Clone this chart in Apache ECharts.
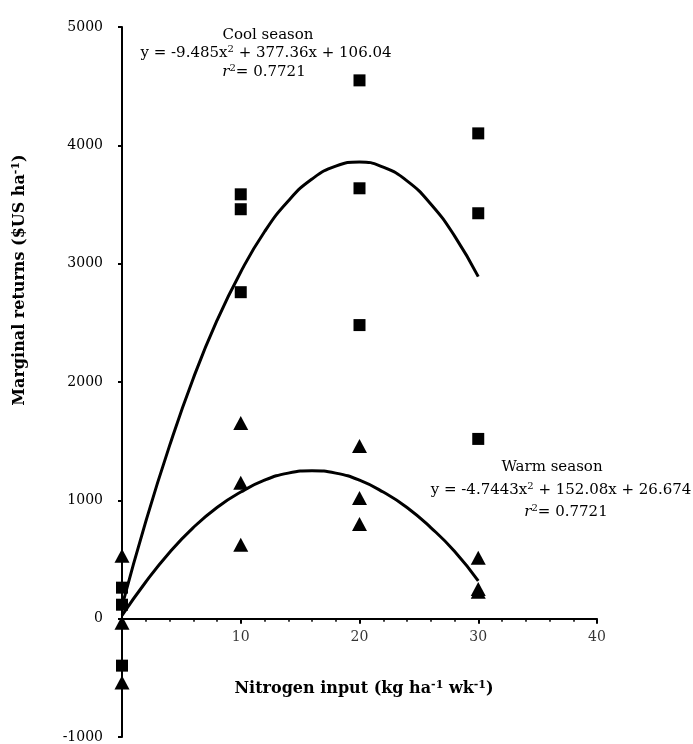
<!DOCTYPE html>
<html><head><meta charset="utf-8">
<script src="https://cdn.jsdelivr.net/npm/echarts@6/dist/echarts.min.js"></script>
<style>html,body{margin:0;padding:0;background:#fff}#c{width:693px;height:744px}</style>
</head><body><div id="c"></div>
<script>
// Observed data
var coolX = [0,0,0,10,10,10,20,20,20,30,30,30];
var coolY = [262,118,-397,3586,3460,2759,4549,3637,2481,4101,3426,1519];
var warmX = [0,0,0,10,10,10,20,20,20,30,30,30];
var warmY = [532,-34,-540,1654,1148,624,1460,1020,800,515,250,228];
// Fitted curves
var fitX = [0,2,4,6,8,10,12,14,16,18,20,22,24,26,28,30];
var coolFit = [106,820,1460,2030,2520,2930,3270,3530,3715,3825,3860,3815,3700,3505,3235,2890];
var warmFit = [27,310,560,770,940,1070,1170,1230,1250,1230,1170,1070,940,770,570,320];
var xTicks = [10,20,30,40];
var yTicks = [-1000,0,1000,2000,3000,4000,5000];

function pairs(xs, ys){ return xs.map(function(x,i){return [x, ys[i]];}); }

var FONT = '"DejaVu Serif", "Liberation Serif", serif';
var chart = echarts.init(document.getElementById('c'));
var txt = {fontFamily: FONT, fontSize: 15, color: '#000'};
var sup = {fontFamily: FONT, fontSize: 10, color: '#000', verticalAlign: 'top', lineHeight: 18};
var bold = {fontFamily: FONT, fontSize: 16, fontWeight: 'bold', color: '#000'};
var supB = {fontFamily: FONT, fontSize: 11, fontWeight: 'bold', color: '#000', verticalAlign: 'top', lineHeight: 19};
var ital = {fontFamily: FONT, fontSize: 15, fontStyle: 'italic', color: '#000'};

function note(x, y, text, rich){
  return {type: 'text', x: x, y: y, style: {text: text, align: 'center', verticalAlign: 'middle', rich: rich}};
}

chart.setOption({
  animation: false,
  backgroundColor: '#fff',
  grid: {left: 122, right: 96, top: 27, bottom: 7},
  xAxis: {
    type: 'value', min: 0, max: 40, interval: 10,
    axisLine: {onZero: true, lineStyle: {color: '#000', width: 2}},
    axisTick: {show: true, length: 5, lineStyle: {color: '#000', width: 2}},
    minorTick: {show: true, splitNumber: 5, length: 3, lineStyle: {color: '#000', width: 1.5}},
    splitLine: {show: false},
    axisLabel: {show: false}
  },
  yAxis: {
    type: 'value', min: -1000, max: 5000, interval: 1000,
    axisLine: {onZero: false, lineStyle: {color: '#000', width: 2}},
    axisTick: {show: true, length: 4, lineStyle: {color: '#000', width: 2}},
    splitLine: {show: false},
    axisLabel: {
      margin: 19, fontFamily: FONT, fontSize: 14, color: '#000',
      formatter: function(v){ return yTicks.indexOf(v) >= 0 ? String(v) : ''; }
    }
  },
  graphic: [
    {type: 'text', x: 364, y: 689, style: {
      text: '{a|Nitrogen input (kg ha}{s|-1}{a| wk}{s|-1}{a|)}', align: 'center', verticalAlign: 'middle',
      rich: {a: bold, s: supB}}},
    {type: 'text', x: 20, y: 280, rotation: Math.PI/2, style: {
      text: '{a|Marginal returns ($US ha}{s|-1}{a|)}', align: 'center', verticalAlign: 'middle',
      rich: {a: bold, s: supB}}},
    note(268, 35, '{a|Cool season}', {a: txt}),
    note(266, 53, '{a|y = -9.485x}{s|2}{a| + 377.36x + 106.04}', {a: txt, s: sup}),
    note(264, 72, '{i|r}{s|2}{a|= 0.7721}', {a: txt, s: sup, i: ital}),
    note(552, 467, '{a|Warm season}', {a: txt}),
    note(561, 490, '{a|y = -4.7443x}{s|2}{a| + 152.08x + 26.674}', {a: txt, s: sup}),
    note(566, 512, '{i|r}{s|2}{a|= 0.7721}', {a: txt, s: sup, i: ital})
  ],
  series: [
    {type: 'line', data: pairs(fitX, coolFit), smooth: true, symbol: 'none',
     lineStyle: {color: '#000', width: 3}, z: 2},
    {type: 'line', data: pairs(fitX, warmFit), smooth: true, symbol: 'none',
     lineStyle: {color: '#000', width: 3}, z: 2},
    {type: 'scatter', data: pairs(coolX, coolY), symbol: 'rect', symbolSize: 12,
     itemStyle: {color: '#000', opacity: 1}, z: 3},
    {type: 'scatter', data: pairs(warmX, warmY), symbol: 'triangle', symbolSize: [15, 14],
     itemStyle: {color: '#000', opacity: 1}, z: 3},
    // x-axis tick labels placed on the zero line
    {type: 'scatter', data: xTicks.map(function(v){ return [v, 0]; }), symbolSize: 0, silent: true,
     label: {show: true, position: 'bottom', distance: 12, fontFamily: FONT, fontSize: 14, color: '#000',
       formatter: function(p){ return String(p.value[0]); }}, z: 1}
  ]
});
</script></body></html>
